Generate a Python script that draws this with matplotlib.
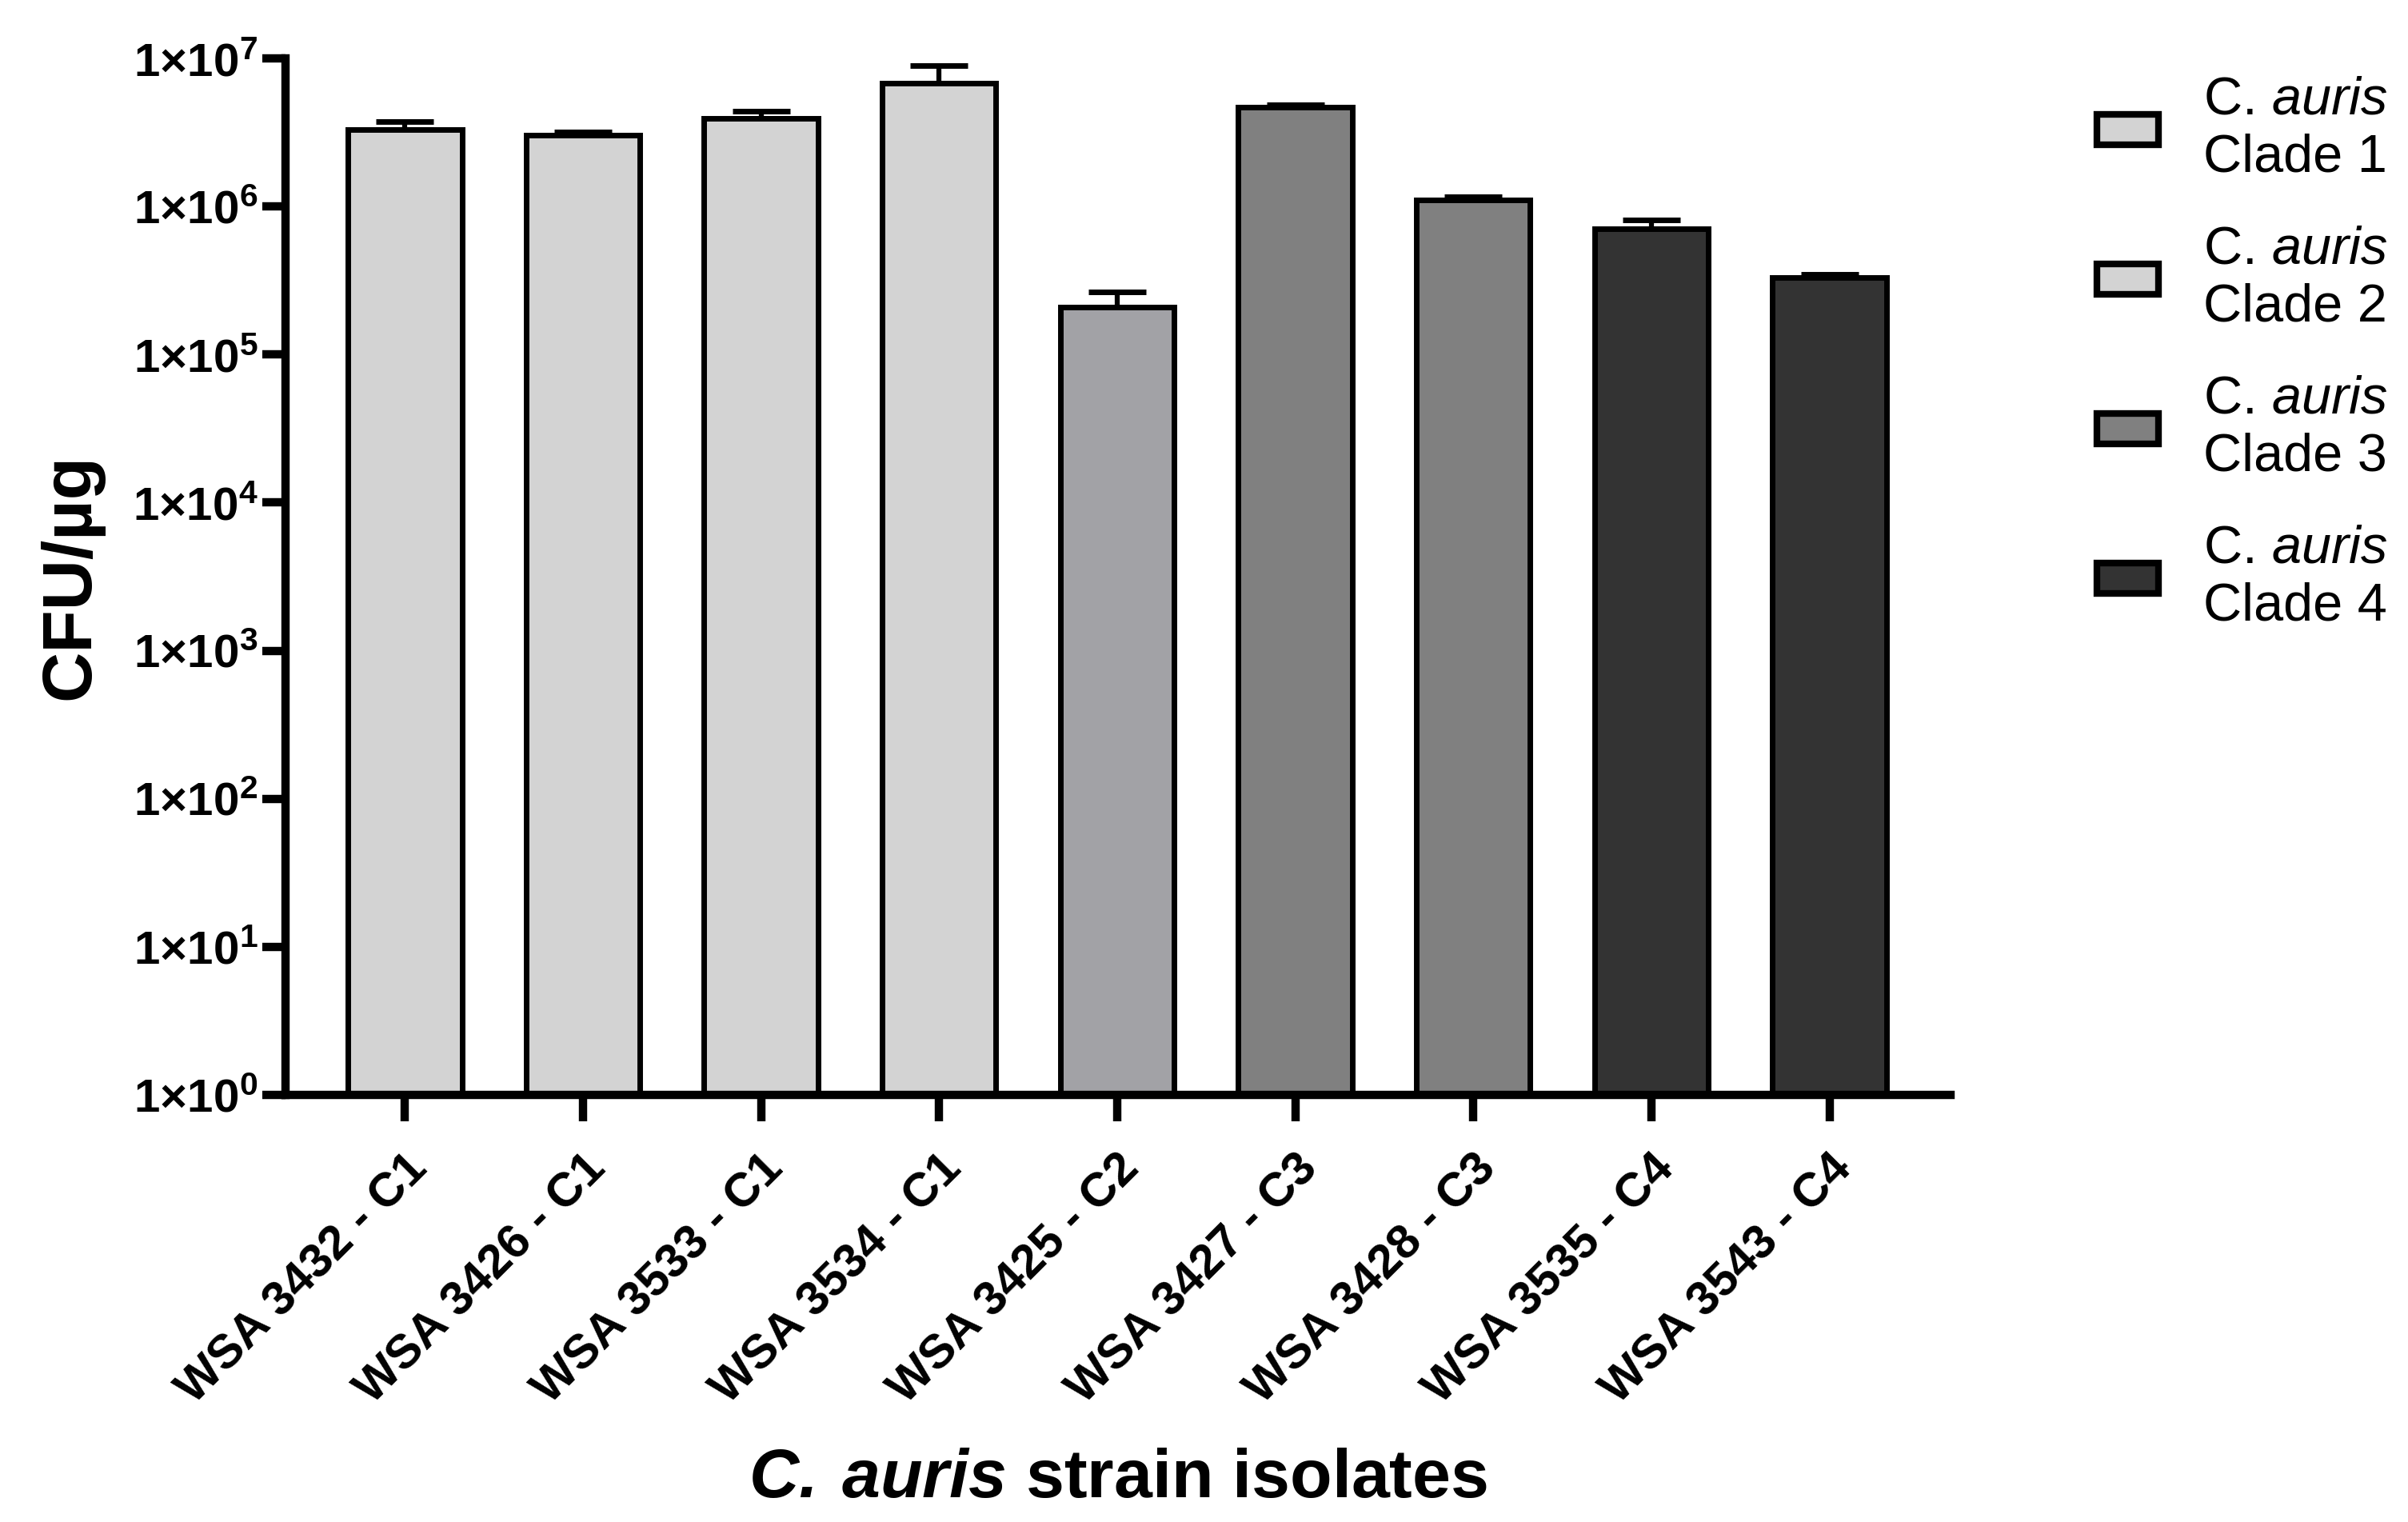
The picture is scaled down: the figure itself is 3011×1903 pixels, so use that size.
import matplotlib
matplotlib.use("Agg")
import matplotlib.pyplot as plt
import matplotlib.ticker as mticker
import matplotlib.transforms as mtransforms
from matplotlib.patches import Patch
import numpy as np

plt.rcParams['font.family'] = ['Liberation Sans', 'DejaVu Sans']
plt.rcParams['mathtext.fontset'] = 'custom'
plt.rcParams['mathtext.rm'] = 'Liberation Sans'
plt.rcParams['mathtext.it'] = 'Liberation Sans:italic'
plt.rcParams['mathtext.bf'] = 'Liberation Sans:bold'
plt.rcParams['mathtext.bfit'] = 'Liberation Sans:italic:bold'

strains = ["WSA 3432 - C1", "WSA 3426 - C1", "WSA 3533 - C1", "WSA 3534 - C1",
           "WSA 3425 - C2", "WSA 3427 - C3", "WSA 3428 - C3", "WSA 3535 - C4",
           "WSA 3543 - C4"]
clade = [1, 1, 1, 1, 2, 3, 3, 4, 4]
means = [3.3e6, 3.03e6, 3.94e6, 6.8e6, 2.08e5, 4.66e6, 1.11e6, 7.07e5, 3.3e5]
upper = [3.76e6, 3.2e6, 4.4e6, 8.9e6, 2.65e5, 4.85e6, 1.16e6, 8.1e5, 3.5e5]
clade_colors = {1: "#d3d3d3", 2: "#a2a2a6", 3: "#808080", 4: "#333333"}
legend_colors = ["#d3d3d3", "#d3d3d3", "#808080", "#333333"]
legend_labels = ["C. $\\mathit{auris}$\nClade 1", "C. $\\mathit{auris}$\nClade 2",
                 "C. $\\mathit{auris}$\nClade 3", "C. $\\mathit{auris}$\nClade 4"]

fig = plt.figure(figsize=(30.11, 19.03), dpi=100)
ax = fig.add_axes([0.1186, 0.2806, 0.81 - 0.1186, 0.9616 - 0.2806])

x = np.arange(len(strains))
cols = [clade_colors[c] for c in clade]
err_up = np.array(upper) - np.array(means)
ax.bar(x, means, width=0.64, color=cols, edgecolor="black", linewidth=5, zorder=2)
ax.errorbar(x, means, yerr=[np.zeros(len(x)), err_up], fmt="none", ecolor="black",
            elinewidth=4.5, capsize=26, capthick=5, zorder=1)

ax.set_yscale("log")
ax.set_ylim(1, 1e7)
ax.set_xlim(-0.67, 8.68)
ax.yaxis.set_major_locator(mticker.FixedLocator([10.0**k for k in range(8)]))
ax.yaxis.set_minor_locator(mticker.NullLocator())
ax.yaxis.set_major_formatter(mticker.FuncFormatter(
    lambda v, p: r"$\mathbf{1{\times}10^{%d}}$" % int(round(np.log10(v)))))

ax.set_xticks(x)
ax.set_xticklabels(strains, rotation=45, ha="right", rotation_mode="anchor",
                   fontsize=43, fontweight="bold")
offset = mtransforms.ScaledTranslation(-18 / 72, 0, fig.dpi_scale_trans)
for lab in ax.get_xticklabels():
    lab.set_transform(lab.get_transform() + offset)
ax.tick_params(axis="y", labelsize=42, width=7.5, length=21, direction="out", pad=4)
ax.tick_params(axis="x", width=7.5, length=24, direction="out", pad=22)

for s in ["top", "right"]:
    ax.spines[s].set_visible(False)
for s in ["left", "bottom"]:
    ax.spines[s].set_linewidth(7.5)

ax.set_ylabel("CFU/µg", fontsize=63, fontweight="bold", labelpad=26)
ax.set_xlabel("$\\mathbfit{C.\\:auris}$ strain isolates", fontsize=62,
              fontweight="bold", labelpad=32)

handles = [Patch(facecolor=c, edgecolor="black", linewidth=6) for c in legend_colors]
leg = fig.legend(handles, legend_labels, loc="upper left",
                 bbox_to_anchor=(0.8509, 0.9817), frameon=False, fontsize=48,
                 handlelength=1.15, handleheight=0.5, handletextpad=0.84,
                 labelspacing=0.8)

fig.savefig("out.png", dpi=100)
